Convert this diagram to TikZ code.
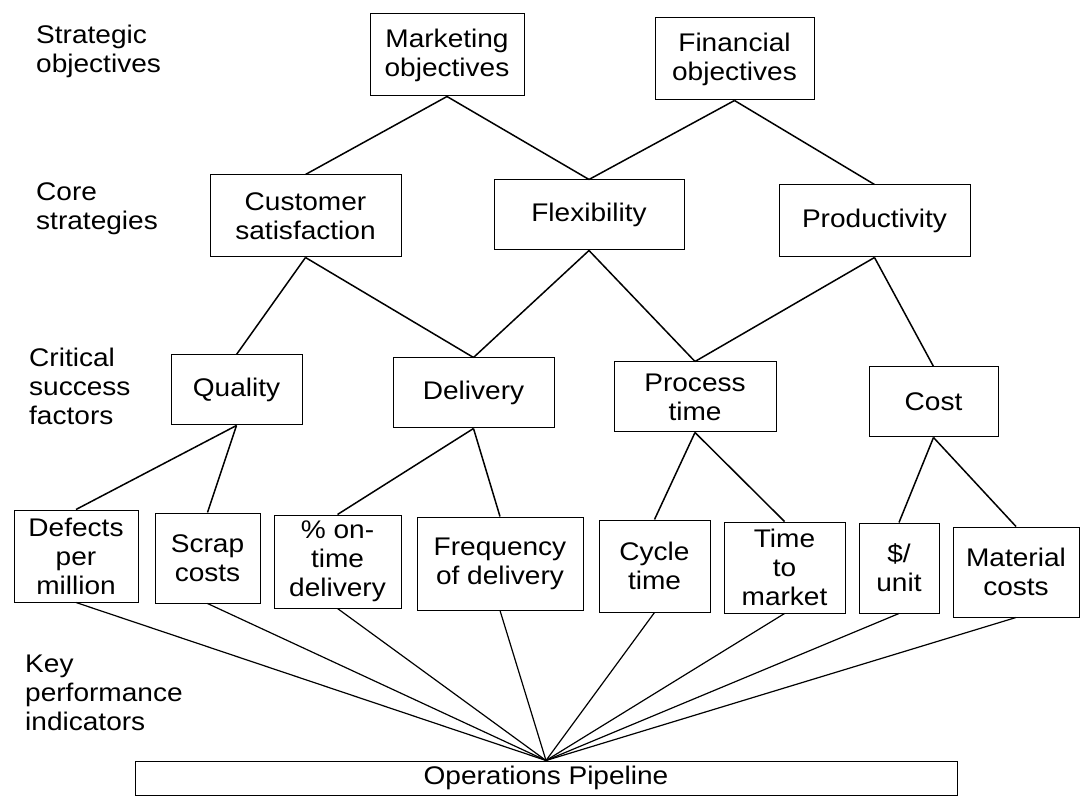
\documentclass[tikz,border=0pt]{standalone}
\usepackage{fontspec}
\setmainfont{Liberation Sans}[FakeStretch=1.1]
\usepackage{tikz}

\newcommand{\boxfont}{\fontsize{25.5}{29}\selectfont}
\tikzset{box_size/.style 2 args={minimum width=#1pt,minimum height=#2pt}}

\begin{document}
\begin{tikzpicture}[x=1pt, y=-1pt,
		box_style/.style={rectangle,draw=black,line width=1pt,fill=white,align=center,inner sep=0pt,font=\boxfont},
		level_style/.style={align=left,anchor=north west,inner sep=0pt,font=\boxfont},
		edge_style/.style={draw=black,line width=1.5pt},
		kpi_edge/.style={draw=black,line width=1.2pt}]

		\useasboundingbox (0,0) rectangle (1080,802);

		% level names down the left side
		\node[level_style] (lvl_obj) at (36,25) {Strategic\\objectives};
		\node[level_style] (lvl_core) at (36,182) {Core\\strategies};
		\node[level_style] (lvl_csf) at (29,348) {Critical\\success\\factors};
		\node[level_style] (lvl_kpi) at (25,655) {Key\\performance\\indicators};

		% objectives
		\node[box_style, box_size={154}{82}] (mkt) at (447,55) {Marketing\\objectives};
		\node[box_style, box_size={159}{82}] (fin) at (734.5,59) {Financial\\objectives};

		% strategies
		\node[box_style, box_size={191}{82}] (cust) at (305.5,216) {Customer\\satisfaction};
		\node[box_style, box_size={190}{70}] (flex) at (589,215) {Flexibility};
		\node[box_style, box_size={191}{72}] (prod) at (874.5,221) {Productivity};

		% success factors
		\node[box_style, box_size={131}{70}] (qual) at (236.5,390) {Quality};
		\node[box_style, box_size={161}{70}] (deliv) at (473.5,393) {Delivery};
		\node[box_style, box_size={162}{70}] (proc) at (695,397) {Process\\time};
		\node[box_style, box_size={129}{70}] (cost) at (933.5,402) {Cost};

		% indicators
		\node[box_style, box_size={124}{92}] (defects) at (76,556) {Defects\\per\\million};
		\node[box_style, box_size={105}{90}] (scrap) at (207.5,558) {Scrap\\costs};
		\node[box_style, box_size={127}{93}] (ontime) at (337.5,561.5) {\% on-\\time\\delivery};
		\node[box_style, box_size={166}{93}] (freq) at (500,563.5) {Frequency\\of delivery};
		\node[box_style, box_size={111}{92}] (cycle) at (654.5,566) {Cycle\\time};
		\node[box_style, box_size={121}{91}] (market) at (784.5,567.5) {Time\\to\\market};
		\node[box_style, box_size={80}{90}] (unit) at (899,568) {\$/\\unit};
		\node[box_style, box_size={126}{90}] (mat) at (1016,572) {Material\\costs};

		\node[box_style, box_size={822}{34}] (pipe) at (546,778) {Operations Pipeline};

		\draw[edge_style] (mkt.south) edge (cust.north);
		\draw[edge_style] (mkt.south) edge (flex.north);
		\draw[edge_style] (fin.south) edge (flex.north);
		\draw[edge_style] (fin.south) edge (prod.north);

		\draw[edge_style] (cust.south) edge (qual.north);
		\draw[edge_style] (cust.south) edge (deliv.north);
		\draw[edge_style] (flex.south) edge (deliv.north);
		\draw[edge_style] (flex.south) edge (proc.north);
		\draw[edge_style] (prod.south) edge (proc.north);
		\draw[edge_style] (prod.south) edge (cost.north);

		\draw[edge_style] (qual.south) edge (defects.north);
		\draw[edge_style] (qual.south) edge (scrap.north);
		\draw[edge_style] (deliv.south) edge (ontime.north);
		\draw[edge_style] (deliv.south) edge (freq.north);
		\draw[edge_style] (proc.south) edge (cycle.north);
		\draw[edge_style] (proc.south) edge (market.north);
		\draw[edge_style] (cost.south) edge (unit.north);
		\draw[edge_style] (cost.south) edge (mat.north);

		% every indicator feeds the pipeline
		\draw[kpi_edge] (defects.south) edge (pipe.north);
		\draw[kpi_edge] (scrap.south) edge (pipe.north);
		\draw[kpi_edge] (ontime.south) edge (pipe.north);
		\draw[kpi_edge] (freq.south) edge (pipe.north);
		\draw[kpi_edge] (cycle.south) edge (pipe.north);
		\draw[kpi_edge] (market.south) edge (pipe.north);
		\draw[kpi_edge] (unit.south) edge (pipe.north);
		\draw[kpi_edge] (mat.south) edge (pipe.north);

\end{tikzpicture}
\end{document}
